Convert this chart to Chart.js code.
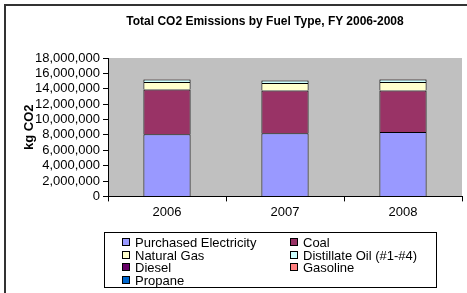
<!DOCTYPE html>
<html>
<head>
<meta charset="utf-8">
<script src="https://cdn.jsdelivr.net/npm/chart.js@4"></script>
<style>
  body { margin: 0; background: #fff; font-family: "Liberation Sans", Arial, sans-serif; }
  #wrap { position: relative; width: 467px; height: 293px; overflow: hidden; }
  #frame { position: absolute; left: 4px; top: 4px; width: 480px; height: 300px;
           border-left: 2px solid #333; border-top: 2px solid #333; }
  #title { position: absolute; left: 265px; top: 14px; transform: translateX(-50%);
           white-space: nowrap; font-weight: bold; font-size: 12px; color: #000; }
  canvas { position: absolute; left: 0; top: 0; }
  #legend { position: absolute; left: 104px; top: 232px; width: 333px; height: 56px;
            border: 1px solid #000; box-sizing: border-box; padding-top: 3px; }
  .item { position: absolute; height: 13px; line-height: 13px; font-size: 13px; color: #000; white-space: nowrap; }
  .item span.box { display: inline-block; width: 6px; height: 6px; border: 1px solid #000;
                   margin-right: 5px; vertical-align: 1px; }
</style>
</head>
<body>
<div id="wrap">
  <div id="frame"></div>
  <canvas id="co2Chart" width="467" height="293"></canvas>
  <div id="title">Total CO2 Emissions by Fuel Type, FY 2006-2008</div>
  <div id="legend"></div>
</div>
<script>
// fiscal years
const years = ['2006', '2007', '2008'];

// kg CO2 per fuel type
const purchasedElectricity = [8080000, 8210000, 8380000];
const coal = [5830000, 5570000, 5400000];
const naturalGas = [980000, 980000, 1110000];
const distillateOil = [300000, 310000, 310000];
const diesel = [20000, 15000, 20000];
const gasoline = [25000, 25000, 25000];
const propane = [10000, 10000, 10000];

const fuelNames = ['Purchased Electricity', 'Coal', 'Natural Gas', 'Distillate Oil (#1-#4)', 'Diesel', 'Gasoline', 'Propane'];
const fuelColors = ['#9999FF', '#993366', '#FFFFCC', '#CCFFFF', '#660066', '#FF8080', '#0066CC'];
const fuelValues = [purchasedElectricity, coal, naturalGas, distillateOil, diesel, gasoline, propane];

// grey plot area background
const plotBg = {
  id: 'plotBg',
  beforeDraw(chart) {
    const a = chart.chartArea;
    const c = chart.ctx;
    c.save();
    c.fillStyle = '#C0C0C0';
    c.fillRect(a.left, a.top, a.right - a.left, a.bottom - a.top);
    c.restore();
  }
};

const ctx = document.getElementById('co2Chart').getContext('2d');
const co2Chart = new Chart(ctx, {
  type: 'bar',
  data: {
    labels: years,
    datasets: fuelNames.map((name, i) => ({
      label: name,
      data: fuelValues[i],
      backgroundColor: fuelColors[i],
      borderColor: '#000',
      borderWidth: 1,
      barPercentage: 0.4,
      categoryPercentage: 1.0
    }))
  },
  options: {
    responsive: false,
    animation: false,
    layout: { padding: { left: 16, right: 5, top: 58, bottom: 70 } },
    plugins: {
      legend: { display: false },
      tooltip: { enabled: false }
    },
    scales: {
      x: {
        stacked: true,
        grid: { display: true, drawOnChartArea: false, drawTicks: true, tickLength: 5, color: '#000', offset: true },
        border: { display: true, color: '#000', width: 1 },
        ticks: { color: '#000', font: { family: 'Liberation Sans', size: 13 }, padding: 3 }
      },
      y: {
        stacked: true,
        min: 0,
        max: 18000000,
        afterFit(scale) { scale.width = 92; },
        grid: { display: true, drawOnChartArea: false, drawTicks: true, tickLength: 5, color: '#000' },
        border: { display: true, color: '#000', width: 1 },
        title: { display: true, text: 'kg CO2', color: '#000', font: { family: 'Liberation Sans', size: 13, weight: 'bold' }, padding: { top: 6, bottom: 0 } },
        ticks: {
          stepSize: 2000000,
          autoSkip: false,
          color: '#000',
          font: { family: 'Liberation Sans', size: 13, lineHeight: 1 },
          padding: 3,
          callback: v => v.toLocaleString('en-US')
        }
      }
    }
  },
  plugins: [plotBg]
});

// two-column legend built from the datasets
const legend = document.getElementById('legend');
co2Chart.data.datasets.forEach((ds, i) => {
  const div = document.createElement('div');
  div.className = 'item';
  div.style.left = (i % 2 === 0 ? 17 : 185) + 'px';
  div.style.top = (3 + Math.floor(i / 2) * 12.7) + 'px';
  div.innerHTML = '<span class="box" style="background:' + ds.backgroundColor + '"></span>' + ds.label;
  legend.appendChild(div);
});
</script>
</body>
</html>
